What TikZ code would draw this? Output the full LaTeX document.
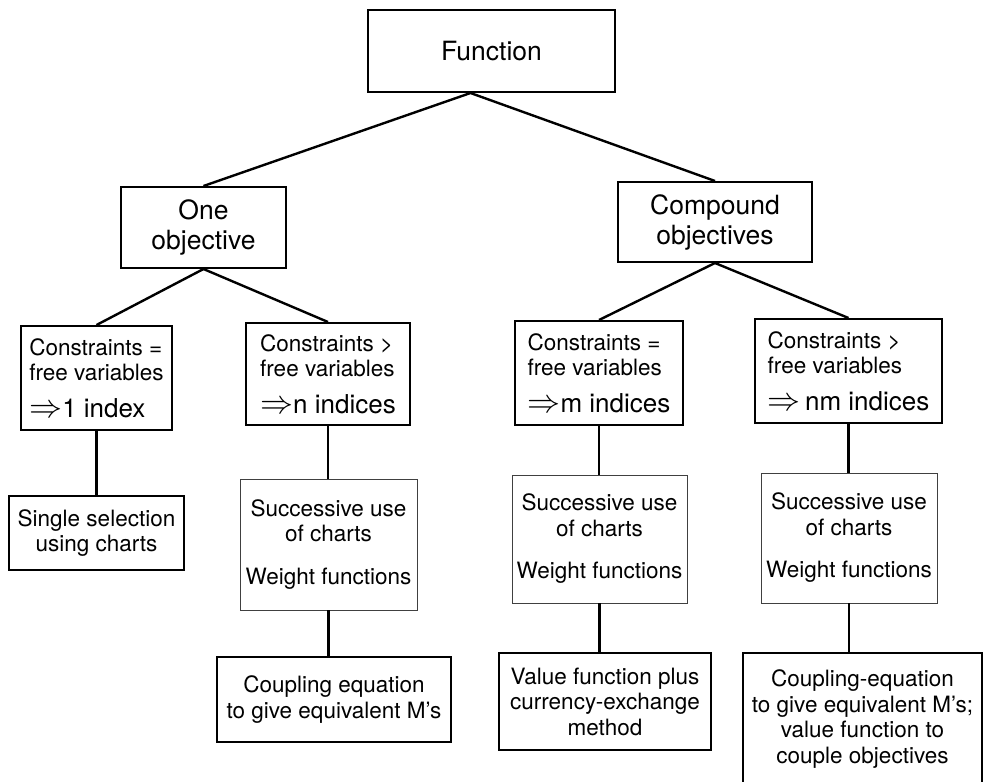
\RequirePackage{fix-cm}
\documentclass[tikz,border=0pt]{standalone}
\usepackage{fontspec}
\setmainfont{TeX Gyre Heros}
\usepackage{tikz}

\newcommand\bodysize{\fontsize{22.5}{25.5}\selectfont}
\newcommand\headsize{\fontsize{26.5}{30}\selectfont}
\newcommand\implsize{\fontsize{26}{30}\selectfont}
\newcommand\impl{{\fontsize{33}{30}\selectfont$\Rightarrow$}}

\tikzset{
  box/.style={rectangle,draw=black,line width=2pt,inner sep=0pt,
              align=center,font=\bodysize},
  sz/.style 2 args={minimum width=#1,minimum height=#2},
  head/.style={box,font=\headsize},
  cond/.style={box,align=left},
  chart/.style={box,draw=black!75,line width=0.9pt},
  link/.style={line width=2.4pt},
}

\begin{document}
\begin{tikzpicture}[x=1pt,y=-1pt]
    \useasboundingbox (0,0) rectangle (983,782);

    \node[head,sz={247}{82}]  (fun)  at (491.5,51)   {Function};
    \node[head,sz={165}{81}]  (one)  at (203.5,227.5) {One\\objective};
    \node[head,sz={194}{80}]  (comp) at (715,222)    {Compound\\objectives};

    % constraints vs. free variables
    \node[cond,sz={151}{104}] (ca) at (96.5,378)
        {Constraints =\\free variables\\[11pt]{\implsize\impl1 index}};
    \node[cond,sz={164}{102}] (cb) at (328,374)
        {Constraints >\\free variables\\[11pt]{\implsize\impl n indices}};
    \node[cond,sz={168}{104}] (cc) at (599,373)
        {Constraints =\\free variables\\[11pt]{\implsize\impl m indices}};
    \node[cond,sz={187}{104}] (cd) at (848.5,371)
        {Constraints >\\free variables\\[11pt]{\implsize\impl\,nm indices}};

    \node[box,sz={175}{74}]   (sa) at (96.5,533)  {Single selection\\using charts};
    \node[chart,sz={177}{131}] (sb) at (328.5,544.5)
        {Successive use\\of charts\\[17pt]Weight functions};
    \node[chart,sz={175}{128}] (sc) at (599.5,539)
        {Successive use\\of charts\\[17pt]Weight functions};
    \node[chart,sz={176}{130}] (sd) at (849,538)
        {Successive use\\of charts\\[17pt]Weight functions};

    \node[box,sz={234}{85}]   (mb) at (334,699.5)
        {Coupling equation\\to give equivalent M's};
    \node[box,sz={212}{97}]   (mc) at (605,701.5)
        {Value function plus\\currency-exchange\\method};
    \node[box,sz={239}{132}]  (md) at (862.5,719)
        {Coupling-equation\\to give equivalent M's;\\value function to\\couple objectives};

    \coordinate (fork) at ([xshift=-21pt]fun.south);
    \draw[link] (one.north) -- (fork) -- (comp.north);

    \foreach \a/\b in {one/ca,one/cb,comp/cc,comp/cd}
      \draw[link] (\a.south) -- (\b.north);

    % straight drops
    \foreach \a/\b in {ca/sa,cb/sb,sb/mb,cc/sc,sc/mc,cd/sd,sd/md}
      \draw[link] (\a.south) -- (\a.south |- \b.north);

\end{tikzpicture}
\end{document}
